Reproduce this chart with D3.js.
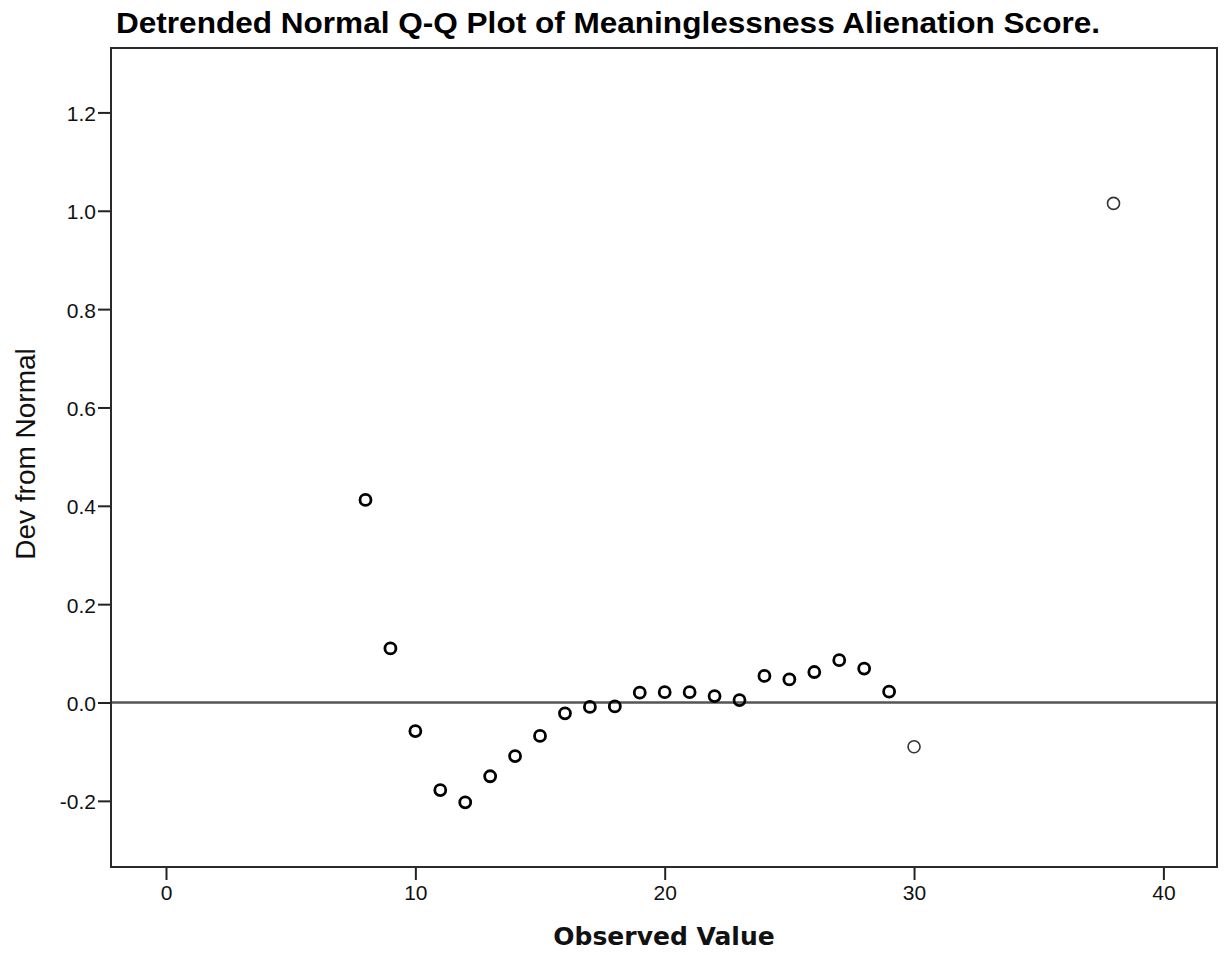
<!DOCTYPE html>
<html>
<head>
<meta charset="utf-8">
<script src="https://cdn.jsdelivr.net/npm/d3@7"></script>
<style>
  body { margin: 0; background: #fff; }
  svg { display: block; }
</style>
</head>
<body>
<div id="container"></div>
<script>
//data
var observed = [8, 9, 10, 11, 12, 13, 14, 15, 16, 17, 18, 19, 20, 21, 22, 23, 24, 25, 26, 27, 28, 29, 30, 38];
var devFromNormal = [0.412, 0.110, -0.058, -0.178, -0.203, -0.150, -0.109, -0.068, -0.022, -0.009, -0.008,
    0.020, 0.021, 0.021, 0.013, 0.005, 0.054, 0.047, 0.062, 0.086, 0.069, 0.022, -0.090, 1.015];
//values drawn with a thin ring (single cases)
var singleCases = [30, 38];
var xTicks = [0, 10, 20, 30, 40];
var yTicks = [-0.2, 0.0, 0.2, 0.4, 0.6, 0.8, 1.0, 1.2];

var w = 1225;
var h = 955;
var plotLeft = 111, plotRight = 1217, plotTop = 48, plotBottom = 867;

var x = d3.scaleLinear()
    .domain([-2.206, 42.15])
    .range([plotLeft, plotRight]);

var y = d3.scaleLinear()
    .domain([-0.3345, 1.331])
    .range([plotBottom, plotTop]);

var svg = d3.select('#container')
    .append('svg')
    .attr('width', w)
    .attr('height', h)
    .style('background', '#fff');

//title
svg.append('text')
    .attr('x', 116)
    .attr('y', 33)
    .attr('textLength', 984)
    .attr('lengthAdjust', 'spacingAndGlyphs')
    .style('font-family', '"Liberation Sans", Arial, sans-serif')
    .style('font-weight', 'bold')
    .style('font-size', '29px')
    .text('Detrended Normal Q-Q Plot of Meaninglessness Alienation Score.');

//axes
var xAxis = d3.axisBottom(x)
    .tickValues(xTicks)
    .tickSize(13)
    .tickPadding(5)
    .tickFormat(d3.format('d'));

var yAxis = d3.axisLeft(y)
    .tickValues(yTicks)
    .tickSize(13)
    .tickPadding(2)
    .tickFormat(function(d) { return d.toFixed(1); });

var gx = svg.append('g')
    .attr('transform', 'translate(0,' + plotBottom + ')')
    .call(xAxis);

var gy = svg.append('g')
    .attr('transform', 'translate(' + plotLeft + ',0)')
    .call(yAxis);

[gx, gy].forEach(function(g) {
    g.select('.domain').remove();
    g.selectAll('.tick line')
        .attr('stroke', '#222')
        .attr('stroke-width', 2);
    g.selectAll('.tick text')
        .attr('fill', '#111')
        .style('font-family', '"Liberation Sans", Arial, sans-serif')
        .style('font-size', '21px');
});
gx.selectAll('.tick text').attr('dy', '0.72em');
gy.selectAll('.tick text').attr('dy', '0.38em');

//zero reference line
svg.append('line')
    .attr('x1', plotLeft)
    .attr('x2', plotRight)
    .attr('y1', y(0))
    .attr('y2', y(0))
    .attr('stroke', '#555')
    .attr('stroke-width', 2.5);

//frame
svg.append('rect')
    .attr('x', plotLeft)
    .attr('y', plotTop)
    .attr('width', plotRight - plotLeft)
    .attr('height', plotBottom - plotTop)
    .attr('fill', 'none')
    .attr('stroke', '#2a2a2a')
    .attr('stroke-width', 2);

//points
var points = observed.map(function(v, i) {
    return { obs: v, dev: devFromNormal[i], single: singleCases.indexOf(v) >= 0 };
});

svg.selectAll('circle.pt')
    .data(points)
    .enter()
    .append('circle')
    .attr('class', 'pt')
    .attr('cx', function(d) { return x(d.obs); })
    .attr('cy', function(d) { return y(d.dev); })
    .attr('r', function(d) { return d.single ? 6 : 5.5; })
    .attr('fill', 'none')
    .attr('stroke', function(d) { return d.single ? '#333' : '#000'; })
    .attr('stroke-width', function(d) { return d.single ? 1.6 : 2.8; });

//axis titles
svg.append('text')
    .attr('x', 664)
    .attr('y', 945)
    .attr('text-anchor', 'middle')
    .style('font-family', '"DejaVu Sans", Verdana, sans-serif')
    .style('font-weight', 'bold')
    .style('font-size', '25px')
    .attr('fill', '#111')
    .text('Observed Value');

svg.append('text')
    .attr('transform', 'translate(35,454) rotate(-90)')
    .attr('text-anchor', 'middle')
    .style('font-family', '"Liberation Sans", Arial, sans-serif')
    .style('font-size', '28px')
    .attr('fill', '#111')
    .text('Dev from Normal');
</script>
</body>
</html>
